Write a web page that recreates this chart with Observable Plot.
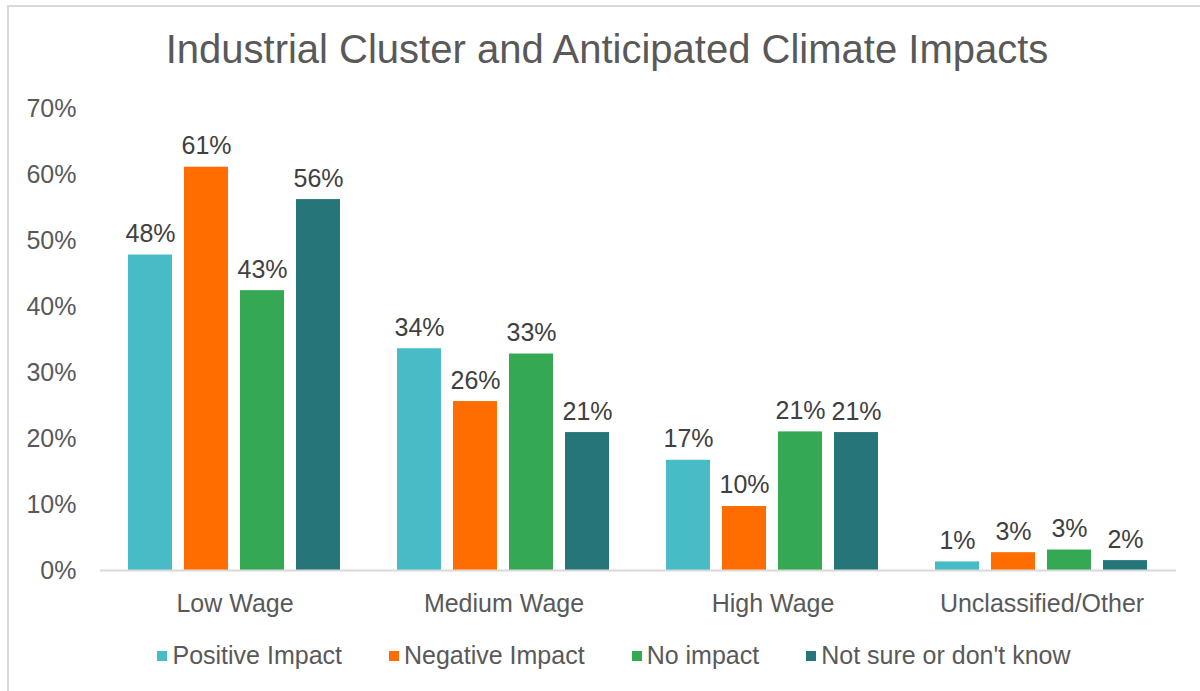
<!DOCTYPE html>
<html>
<head>
<meta charset="utf-8">
<script src="https://cdn.jsdelivr.net/npm/d3@7"></script>
<script src="https://cdn.jsdelivr.net/npm/@observablehq/plot@0.6"></script>
<style>
  html, body { margin: 0; padding: 0; background: #fff; }
  #wrap { position: relative; width: 1200px; height: 691px; overflow: hidden; font-family: "Liberation Sans", Arial, sans-serif; }
  #frameTop { position: absolute; left: 7px; top: 5px; width: 1193px; height: 2px; background: #d9d9d9; }
  #frameLeft { position: absolute; left: 7px; top: 5px; width: 2px; height: 686px; background: #d9d9d9; }
  #title { position: absolute; left: 0; width: 1214px; top: 27px; text-align: center; font-size: 40px; color: #595959; }
  #chart { position: absolute; left: 0; top: 80px; }
  #legend { position: absolute; left: 0; width: 1228px; top: 641px; display: flex; justify-content: center; gap: 47px; font-size: 25px; color: #595959; }
  .item { display: flex; align-items: center; gap: 5px; }
  .sw { width: 10px; height: 10px; display: inline-block; }
</style>
</head>
<body>
<div id="wrap">
  <div id="frameTop"></div>
  <div id="frameLeft"></div>
  <div id="title">Industrial Cluster and Anticipated Climate Impacts</div>
  <div id="chart"></div>
  <div id="legend"></div>
</div>
<script>
const groups = ["Low Wage", "Medium Wage", "High Wage", "Unclassified/Other"];
const series = ["Positive Impact", "Negative Impact", "No impact", "Not sure or don't know"];
const colors = ["#47BBC6", "#FF6D00", "#34A853", "#267679"];
const positiveImpact = [47.8, 33.6, 16.7, 1.3];
const negativeImpact = [61.1, 25.6, 9.7, 2.7];
const noImpact = [42.4, 32.8, 21.0, 3.1];
const notSure = [56.2, 20.9, 20.9, 1.5];
const labels = [
  ["48%", "34%", "17%", "1%"],
  ["61%", "26%", "10%", "3%"],
  ["43%", "33%", "21%", "3%"],
  ["56%", "21%", "21%", "2%"]
];
const yTicks = [0, 10, 20, 30, 40, 50, 60, 70];

const seriesValues = [positiveImpact, negativeImpact, noImpact, notSure];
const data = [];
groups.forEach((g, gi) => {
  series.forEach((s, si) => {
    data.push({group: g, series: s, value: seriesValues[si][gi], label: labels[si][gi]});
  });
});

const chart = Plot.plot({
  width: 1200,
  height: 545,
  marginTop: 28,
  marginBottom: 55,
  marginLeft: 100,
  marginRight: 24,
  style: {fontFamily: "'Liberation Sans', Arial, sans-serif", fontSize: "25px", color: "#595959", background: "transparent"},
  fx: {domain: groups, padding: 0, label: null, axis: "bottom", tickSize: 0, tickPadding: 24},
  x: {domain: series, paddingInner: 0.21, paddingOuter: 0.465, axis: null},
  y: {domain: [0, 70], ticks: yTicks, tickFormat: d => d + "%", label: null, tickSize: 0, tickPadding: 24},
  color: {domain: series, range: colors},
  marks: [
    Plot.barY(data, {fx: "group", x: "series", y: "value", fill: "series"}),
    Plot.ruleY([0], {stroke: "#d9d9d9", strokeWidth: 2}),
    Plot.text(data, {fx: "group", x: "series", y: "value", text: "label", lineAnchor: "bottom", dy: -13, fill: "#404040", fontSize: 25})
  ]
});
document.getElementById("chart").appendChild(chart);

const legend = document.getElementById("legend");
series.forEach((s, i) => {
  const it = document.createElement("div");
  it.className = "item";
  const sw = document.createElement("span");
  sw.className = "sw";
  sw.style.background = colors[i];
  const tx = document.createElement("span");
  tx.textContent = s;
  it.appendChild(sw);
  it.appendChild(tx);
  legend.appendChild(it);
});
</script>
</body>
</html>
